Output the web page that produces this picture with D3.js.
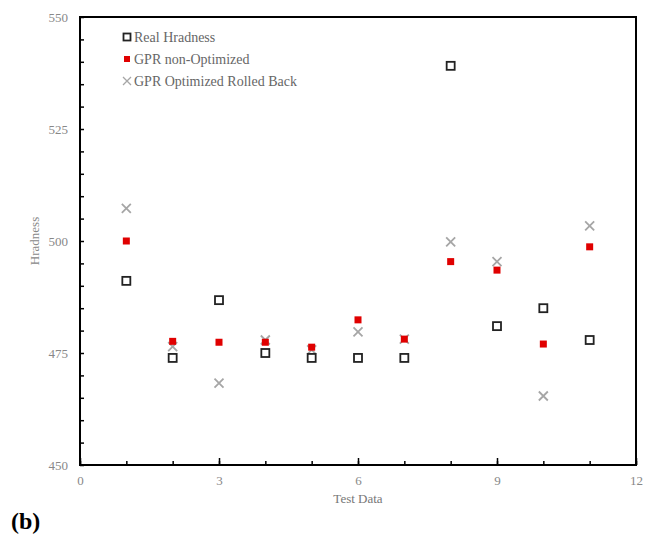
<!DOCTYPE html>
<html>
<head>
<meta charset="utf-8">
<script src="https://cdn.jsdelivr.net/npm/d3@7"></script>
<style>
  body { margin: 0; background: #fff; }
  text { font-family: "Liberation Serif", "Times New Roman", serif; }
</style>
</head>
<body>
<div id="chart"></div>
<script>
let testData = [1, 2, 3, 4, 5, 6, 7, 8, 9, 10, 11];
let realHardness = [491.1, 473.9, 486.8, 475.0, 473.9, 473.9, 473.9, 539.1, 481.0, 485.0, 477.9];
let gprNonOpt = [500.0, 477.6, 477.4, 477.4, 476.3, 482.4, 478.1, 495.4, 493.5, 477.0, 498.7];
let gprOptRolled = [507.3, 476.4, 468.3, 477.9, 475.7, 479.7, 478.1, 499.8, 495.4, 465.4, 503.4];
let xTicks = [0, 3, 6, 9, 12];
let yTicks = [450, 475, 500, 525, 550];
let legendLabels = ['Real Hradness', 'GPR non-Optimized', 'GPR Optimized Rolled Back'];

let W = 657, H = 538;
let margin = { top: 17, right: 21, bottom: 73, left: 80 };
let width = W - margin.left - margin.right;
let height = H - margin.top - margin.bottom;

let svg = d3.select('#chart')
    .append('svg')
    .attr('width', W)
    .attr('height', H);

let g = svg.append('g')
    .attr('transform', 'translate(' + margin.left + ',' + margin.top + ')');

let x = d3.scaleLinear().domain([0, 12]).range([0, width]);
let y = d3.scaleLinear().domain([450, 550]).range([height, 0]);

// minor ticks
let xAxisMinor = d3.axisBottom(x).tickValues(d3.range(0, 13, 1)).tickSize(-4).tickFormat('');
let yAxisMinor = d3.axisLeft(y).tickValues(d3.range(450, 551, 5)).tickSize(-4).tickFormat('');
let xAxis = d3.axisBottom(x).tickValues(xTicks).tickSize(-7).tickPadding(11).tickFormat(d3.format('d'));
let yAxis = d3.axisLeft(y).tickValues(yTicks).tickSize(0).tickPadding(12);

// frame
g.append('rect')
    .attr('x', 0).attr('y', 0)
    .attr('width', width).attr('height', height)
    .attr('fill', 'none')
    .attr('stroke', '#000')
    .attr('stroke-width', 2);

g.append('g').attr('transform', 'translate(0,' + height + ')').call(xAxisMinor)
    .call(a => a.select('.domain').remove())
    .selectAll('line').attr('stroke', '#000').attr('stroke-width', 1.5);
g.append('g').call(yAxisMinor)
    .call(a => a.select('.domain').remove())
    .selectAll('line').attr('stroke', '#000').attr('stroke-width', 1.5);

let gx = g.append('g').attr('transform', 'translate(0,' + height + ')').call(xAxis);
gx.select('.domain').remove();
gx.selectAll('line').attr('stroke', '#000').attr('stroke-width', 1.5);
gx.selectAll('text').attr('fill', '#888').style('font-size', '13px').style('font-family', '"Liberation Serif", serif');

let gy = g.append('g').call(yAxis);
gy.select('.domain').remove();
gy.selectAll('text').attr('fill', '#888').style('font-size', '13px').style('font-family', '"Liberation Serif", serif');

// axis titles
svg.append('text')
    .attr('x', margin.left + width / 2)
    .attr('y', 503)
    .attr('text-anchor', 'middle')
    .attr('fill', '#777')
    .style('font-size', '13px')
    .text('Test Data');

svg.append('text')
    .attr('transform', 'translate(39,' + (margin.top + height / 2) + ') rotate(-90)')
    .attr('text-anchor', 'middle')
    .attr('fill', '#888')
    .style('font-size', '13px')
    .text('Hradness');

svg.append('text')
    .attr('x', 11)
    .attr('y', 529)
    .attr('fill', '#000')
    .style('font-size', '24px')
    .style('font-weight', 'bold')
    .text('(b)');

// series
function crossPath(s) {
    return 'M' + (-s) + ',' + (-s) + 'L' + s + ',' + s + 'M' + (-s) + ',' + s + 'L' + s + ',' + (-s);
}

g.selectAll('.opt')
    .data(testData)
    .enter()
    .append('path')
    .attr('class', 'opt')
    .attr('d', crossPath(4.5))
    .attr('transform', function (d, i) { return 'translate(' + x(d) + ',' + y(gprOptRolled[i]) + ')'; })
    .attr('stroke', '#a6a6a6')
    .attr('stroke-width', 1.8)
    .attr('fill', 'none');

g.selectAll('.nonopt')
    .data(testData)
    .enter()
    .append('rect')
    .attr('class', 'nonopt')
    .attr('x', function (d) { return x(d) - 3.5; })
    .attr('y', function (d, i) { return y(gprNonOpt[i]) - 3.5; })
    .attr('width', 7)
    .attr('height', 7)
    .attr('fill', '#e00000');

g.selectAll('.real')
    .data(testData)
    .enter()
    .append('rect')
    .attr('class', 'real')
    .attr('x', function (d) { return x(d) - 4; })
    .attr('y', function (d, i) { return y(realHardness[i]) - 4; })
    .attr('width', 8)
    .attr('height', 8)
    .attr('fill', 'none')
    .attr('stroke', '#222')
    .attr('stroke-width', 1.8);

// legend
let legend = svg.append('g').attr('transform', 'translate(127,37)');
legendLabels.forEach(function (lab, i) {
    let row = legend.append('g').attr('transform', 'translate(0,' + (i * 22) + ')');
    if (i === 0) {
        row.append('rect').attr('x', -3.5).attr('y', -3.5).attr('width', 7).attr('height', 7)
            .attr('fill', 'none').attr('stroke', '#222').attr('stroke-width', 1.8);
    } else if (i === 1) {
        row.append('rect').attr('x', -3).attr('y', -3).attr('width', 6).attr('height', 6)
            .attr('fill', '#e00000');
    } else {
        row.append('path').attr('d', crossPath(4)).attr('stroke', '#a6a6a6')
            .attr('stroke-width', 1.3).attr('fill', 'none');
    }
    row.append('text')
        .attr('x', 7)
        .attr('y', 5)
        .attr('fill', '#666')
        .style('font-size', '14px')
        .text(lab);
});
</script>
</body>
</html>
